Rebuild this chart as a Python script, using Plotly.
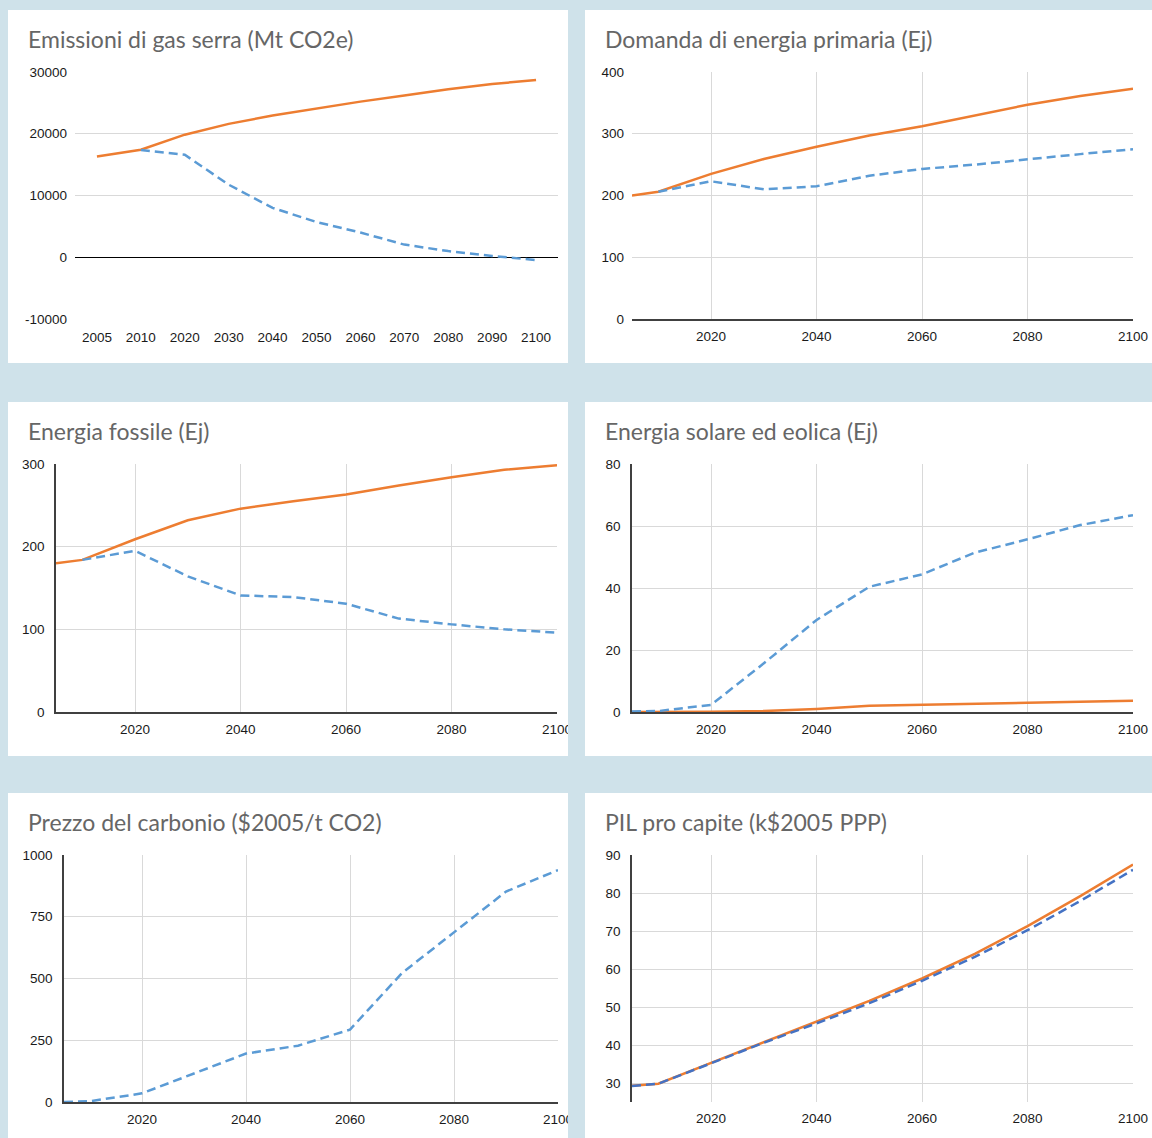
import plotly.graph_objects as go

W, H = 1152, 1138

# ---------------- data ----------------
years = [2005, 2010, 2020, 2030, 2040, 2050, 2060, 2070, 2080, 2090, 2100]
year_labels = [str(y) for y in years]

# Emissioni di gas serra (Mt CO2e)
ghg_base = [16300, 17400, 19850, 21600, 22950, 24100, 25200, 26200, 27200, 28050, 28700]
ghg_pol = [None, 17350, 16600, 11750, 8000, 5700, 4000, 2050, 1000, 200, -450]

# Domanda di energia primaria (Ej)
pe_base = [200, 206, 235, 259, 279, 297, 312, 330, 347, 361, 373]
pe_pol = [None, 206, 223, 210, 215, 232, 243, 250, 259, 267, 275]

# Energia fossile (Ej)
fos_base = [180, 184, 209, 232, 246, 255, 263, 274, 284, 293, 298.5]
fos_pol = [None, 184, 195, 164, 141, 139, 131, 113, 106, 100, 96]

# Energia solare ed eolica (Ej)
sw_base = [0, 0, 0.1, 0.3, 1.0, 2.0, 2.4, 2.7, 3.0, 3.3, 3.6]
sw_pol = [0.2, 0.3, 2.3, 15.7, 29.7, 40.4, 44.4, 51.4, 55.7, 60.3, 63.5]

# Prezzo del carbonio ($2005/t CO2)
cp_pol = [0, 3, 35, 117, 196, 228, 293, 522, 686, 852, 939]

# PIL pro capite (k$2005 PPP)
gdp_base = [29.3, 29.8, 35.3, 40.8, 46.1, 51.6, 57.5, 64.0, 71.3, 79.2, 87.5]
gdp_pol = [29.2, 29.8, 35.2, 40.6, 45.7, 51.0, 56.9, 63.2, 70.2, 77.9, 86.1]

# tick values
x_ticks = [2020, 2040, 2060, 2080, 2100]
y_ticks = [
    [-10000, 0, 10000, 20000, 30000],
    [0, 100, 200, 300, 400],
    [0, 100, 200, 300],
    [0, 20, 40, 60, 80],
    [0, 250, 500, 750, 1000],
    [30, 40, 50, 60, 70, 80, 90],
]
y_ranges = [[-10000, 30000], [0, 400], [0, 300], [0, 80], [0, 1000], [25, 90]]

titles = [
    "Emissioni di gas serra (Mt CO2e)",
    "Domanda di energia primaria (Ej)",
    "Energia fossile (Ej)",
    "Energia solare ed eolica (Ej)",
    "Prezzo del carbonio ($2005/t CO2)",
    "PIL pro capite (k$2005 PPP)",
]

# ---------------- style ----------------
BG = "#CFE2EA"
ORANGE = "#ED7D31"
BLUE = "#5B9BD5"
BLUE2 = "#4472C4"
GRID = "#D9D9D9"
AXIS = "#404040"
TICKFONT = dict(family="Liberation Sans, Arial, sans-serif", size=13.5, color="#1a1a1a")
TITLEFONT = dict(family="Lato, Open Sans, sans-serif", size=23, color="#666666")
DASH = "9px,5px"


def px_x(x):
    return x / W


def px_y(y):
    return 1 - y / H


# white panels (pixel boxes)
panels = [
    (8, 10, 568, 363),
    (585, 10, 1152, 363),
    (8, 402, 568, 756),
    (585, 402, 1152, 756),
    (8, 793, 568, 1138),
    (585, 793, 1152, 1138),
]

# plot areas (left, top, right, bottom) in pixels
areas = [
    (75, 72, 558, 319),
    (632, 72, 1133, 319),
    (56, 464, 557, 712),
    (632, 464, 1133, 712),
    (64, 855, 558, 1102),
    (632, 855, 1133, 1102),
]

fig = go.Figure()

line_base = dict(color=ORANGE, width=2.5)
line_pol = dict(color=BLUE, width=2.5, dash=DASH)

series = [
    (year_labels, ghg_base, ghg_pol, line_pol),
    (years, pe_base, pe_pol, line_pol),
    (years, fos_base, fos_pol, line_pol),
    (years, sw_base, sw_pol, line_pol),
    (years, None, cp_pol, line_pol),
    (years, gdp_base, gdp_pol, dict(color=BLUE2, width=2.5, dash=DASH)),
]

for i, (xs, base, pol, lp) in enumerate(series):
    ax = "" if i == 0 else str(i + 1)
    if base is not None:
        fig.add_trace(go.Scatter(x=xs, y=base, mode="lines", line=line_base,
                                 xaxis="x" + ax, yaxis="y" + ax, showlegend=False,
                                 hoverinfo="skip"))
    fig.add_trace(go.Scatter(x=xs, y=pol, mode="lines", line=lp,
                             xaxis="x" + ax, yaxis="y" + ax, showlegend=False,
                             hoverinfo="skip"))

y_line = [False, False, True, True, True, True]
x_bottom_line = [False, True, True, True, True, False]

layout = dict(
    width=W, height=H, autosize=False,
    margin=dict(l=0, r=0, t=0, b=0, pad=0, autoexpand=False),
    paper_bgcolor=BG, plot_bgcolor="rgba(0,0,0,0)",
    showlegend=False,
    shapes=[], annotations=[],
)

for i, (l, t, r, b) in enumerate(areas):
    ax = "" if i == 0 else str(i + 1)
    xd = [px_x(l), px_x(r)]
    yd = [px_y(b), px_y(t)]
    if i == 0:
        xaxis = dict(type="category", range=[-0.5, 10.5], showgrid=False, zeroline=False,
                     showline=False, ticks="", tickfont=TICKFONT, ticklabelstandoff=8)
    else:
        xaxis = dict(range=[2005, 2100], tickvals=x_ticks, ticktext=[str(v) for v in x_ticks],
                     showgrid=True, gridcolor=GRID, gridwidth=1, zeroline=False,
                     showline=x_bottom_line[i], linecolor=AXIS, linewidth=1.5,
                     ticks="", tickfont=TICKFONT,
                     ticklabelstandoff=4 if x_bottom_line[i] else 6)
    xaxis.update(domain=xd, anchor="y" + ax, fixedrange=True, automargin=False)
    yaxis = dict(domain=yd, anchor="x" + ax, range=y_ranges[i],
                 tickvals=y_ticks[i], ticktext=[str(v) for v in y_ticks[i]],
                 showgrid=True, gridcolor=GRID, gridwidth=1,
                 showline=y_line[i], linecolor=AXIS, linewidth=1.5, ticks="",
                 tickfont=TICKFONT, ticklabelstandoff=7, fixedrange=True, automargin=False)
    if i == 0:
        yaxis.update(zeroline=True, zerolinecolor="#000000", zerolinewidth=1)
    else:
        yaxis.update(zeroline=False)
    layout["xaxis" + ax] = xaxis
    layout["yaxis" + ax] = yaxis

# white panel backgrounds
for (l, t, r, b) in panels:
    layout["shapes"].append(dict(type="rect", xref="paper", yref="paper",
                                 x0=px_x(l), x1=px_x(r), y0=px_y(b), y1=px_y(t),
                                 fillcolor="white", line=dict(width=0), layer="below"))

# gap strip drawn above to clip overflowing labels
layout["shapes"].append(dict(type="rect", xref="paper", yref="paper",
                             x0=px_x(568), x1=px_x(585), y0=0, y1=1,
                             fillcolor=BG, line=dict(width=0), layer="above"))

# titles
title_pos = [(26, 39), (603, 39), (26, 431), (603, 431), (26, 822), (603, 822)]
for (tx, ty), txt in zip(title_pos, titles):
    layout["annotations"].append(dict(text=txt, xref="paper", yref="paper",
                                      x=px_x(tx), y=px_y(ty), xanchor="left", yanchor="middle",
                                      showarrow=False, font=TITLEFONT))

fig.update_layout(**layout)

post = (
    "document.documentElement.style.margin='0';"
    "document.documentElement.style.overflow='hidden';"
    "document.body.style.margin='0';"
    "document.body.style.overflow='hidden';"
)
fig.write_html("out.html", config={"displayModeBar": False}, post_script=post)
